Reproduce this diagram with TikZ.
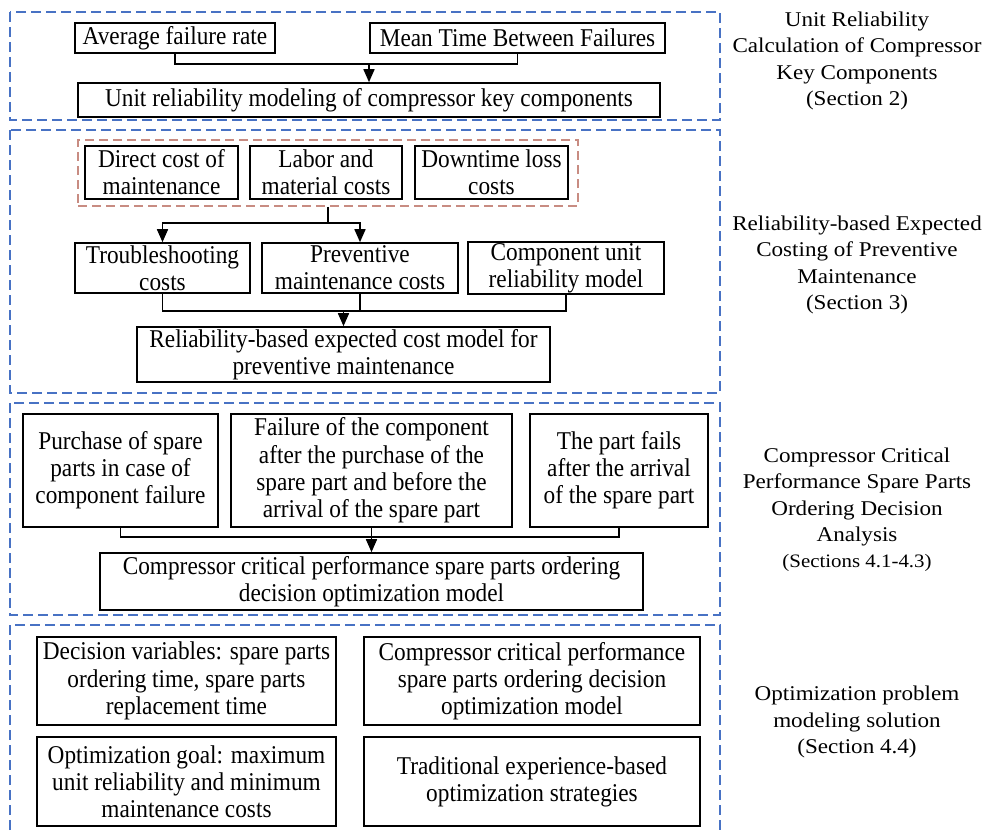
\documentclass[tikz,border=0pt]{standalone}
\usepackage{fontspec}
\setmainfont{Liberation Serif}
\newfontfamily\tallfont[FakeStretch=0.91]{Liberation Serif}
\newfontfamily\widefont[FakeStretch=1.1]{Liberation Serif}
\usetikzlibrary{arrows.meta}
\definecolor{secblue}{RGB}{72,114,196}
\definecolor{grpred}{RGB}{200,140,130}
\newcommand{\bfs}{\tallfont\fontsize{25.6}{27.2}\selectfont}
\newcommand{\lfs}{\widefont\fontsize{21}{26.5}\selectfont}
\tikzset{
  box/.style={draw, line width=1.6pt, inner sep=1pt, align=center, font=\bfs},
  sect/.style={draw=secblue, dash pattern=on 10pt off 5pt, line width=1.8pt},
  grp/.style={draw=grpred, dash pattern=on 9pt off 5pt, line width=1.5pt, inner sep=0pt},
  link/.style={line width=1.6pt},
  arr/.style={link, -{Triangle[length=13pt,width=11pt]}},
  lab/.style={align=center, font=\lfs}
}
\begin{document}
\begin{tikzpicture}[x=1pt,y=-1pt]
\useasboundingbox (0,0) rectangle (995,832);
% section frames
\draw[sect] (10,12) rectangle (720,120);
\draw[sect] (10,130) rectangle (720,393);
\draw[sect] (10,403) rectangle (720,615);
\draw[sect] (10,845) -- (10,625) -- (720,625) -- (720,845);

% section 1
\node[box, minimum width=200pt, minimum height=30pt] (avg) at (175,38) {Average failure rate};
\node[box, minimum width=295pt, minimum height=30pt] (mtbf) at (517.5,38) {Mean Time Between Failures};
\node[box, minimum width=582pt, minimum height=34pt] (unit) at (369,100) {Unit reliability modeling of compressor key components};
\path (unit.north) ++(0,-18) coordinate (j1);
\draw[link] (avg.south) |- (j1) -| (mtbf.south);
\draw[arr] (j1) -- (unit.north);

% section 2
\node[grp, minimum width=500pt, minimum height=66pt] (grp) at (328,173) {};
\node[box, minimum width=153pt, minimum height=53pt] (direct) at (161.5,172.5) {Direct cost of\\maintenance};
\node[box, minimum width=152pt, minimum height=53pt] (labor) at (326,172.5) {Labor and\\material costs};
\node[box, minimum width=153pt, minimum height=53pt] (down) at (491.5,172.5) {Downtime loss\\costs};
\node[box, minimum width=175pt, minimum height=50pt] (trouble) at (162.5,268) {Troubleshooting\\costs};
\node[box, minimum width=196pt, minimum height=50pt] (prev) at (360,268) {Preventive\\maintenance costs};
\node[box, minimum width=196pt, minimum height=50pt] (comp) at (566,268) {Component unit\\reliability model};
\node[box, minimum width=413pt, minimum height=55pt] (rel) at (343.5,354.5) {Reliability-based expected cost model for\\preventive maintenance};
\path (grp.south) ++(0,16) coordinate (j2);
\draw[link] (grp.south) -- (j2);
\draw[arr] (j2) -| (trouble.north);
\draw[arr] (j2) -| (prev.north);
\path (rel.north) ++(0,-15) coordinate (j3);
\draw[link] (trouble.south) |- (j3) -| (comp.south);
\draw[link] (prev.south) -- (prev.south |- j3);
\draw[arr] (j3) -- (rel.north);

% section 3
\node[box, minimum width=195pt, minimum height=113pt] (purch) at (120.5,470.5) {Purchase of spare\\parts in case of\\component failure};
\node[box, minimum width=281pt, minimum height=113pt] (fail) at (371.5,470.5) {Failure of the component\\after the purchase of the\\spare part and before the\\arrival of the spare part};
\node[box, minimum width=178pt, minimum height=113pt] (fails) at (619,470.5) {The part fails\\after the arrival\\of the spare part};
\node[box, minimum width=543pt, minimum height=57pt] (cco) at (371.5,581.5) {Compressor critical performance spare parts ordering\\decision optimization model};
\path (cco.north) ++(0,-15) coordinate (j4);
\draw[link] (purch.south) |- (j4) -| (fails.south);
\draw[arr] (fail.south) -- (cco.north);

% section 4
\node[box, minimum width=299pt, minimum height=88pt] (dec) at (186.5,681) {Decision variables: spare parts\\ordering time, spare parts\\replacement time};
\node[box, minimum width=336pt, minimum height=88pt] (ccpm) at (532,681) {Compressor critical performance\\spare parts ordering decision\\optimization model};
\node[box, minimum width=299pt, minimum height=89pt] (goal) at (186.5,781.5) {Optimization goal: maximum\\unit reliability and minimum\\maintenance costs};
\node[box, minimum width=336pt, minimum height=89pt] (trad) at (532,781.5) {Traditional experience-based\\optimization strategies};

% right labels
\node[lab] (lab1) at (857,61) {Unit Reliability\\Calculation of Compressor\\Key Components\\(Section 2)};
\node[lab] (lab2) at (857,265) {Reliability-based Expected\\Costing of Preventive\\Maintenance\\(Section 3)};
\node[lab] (lab3) at (857,497) {Compressor Critical\\Performance Spare Parts\\Ordering Decision\\Analysis};
\node[lab, font=\widefont\fontsize{19}{22}\selectfont] (lab3b) at (857,563) {(Sections 4.1-4.3)};
\node[lab] (lab4) at (857,722) {Optimization problem\\modeling solution\\(Section 4.4)};
\end{tikzpicture}
\end{document}
